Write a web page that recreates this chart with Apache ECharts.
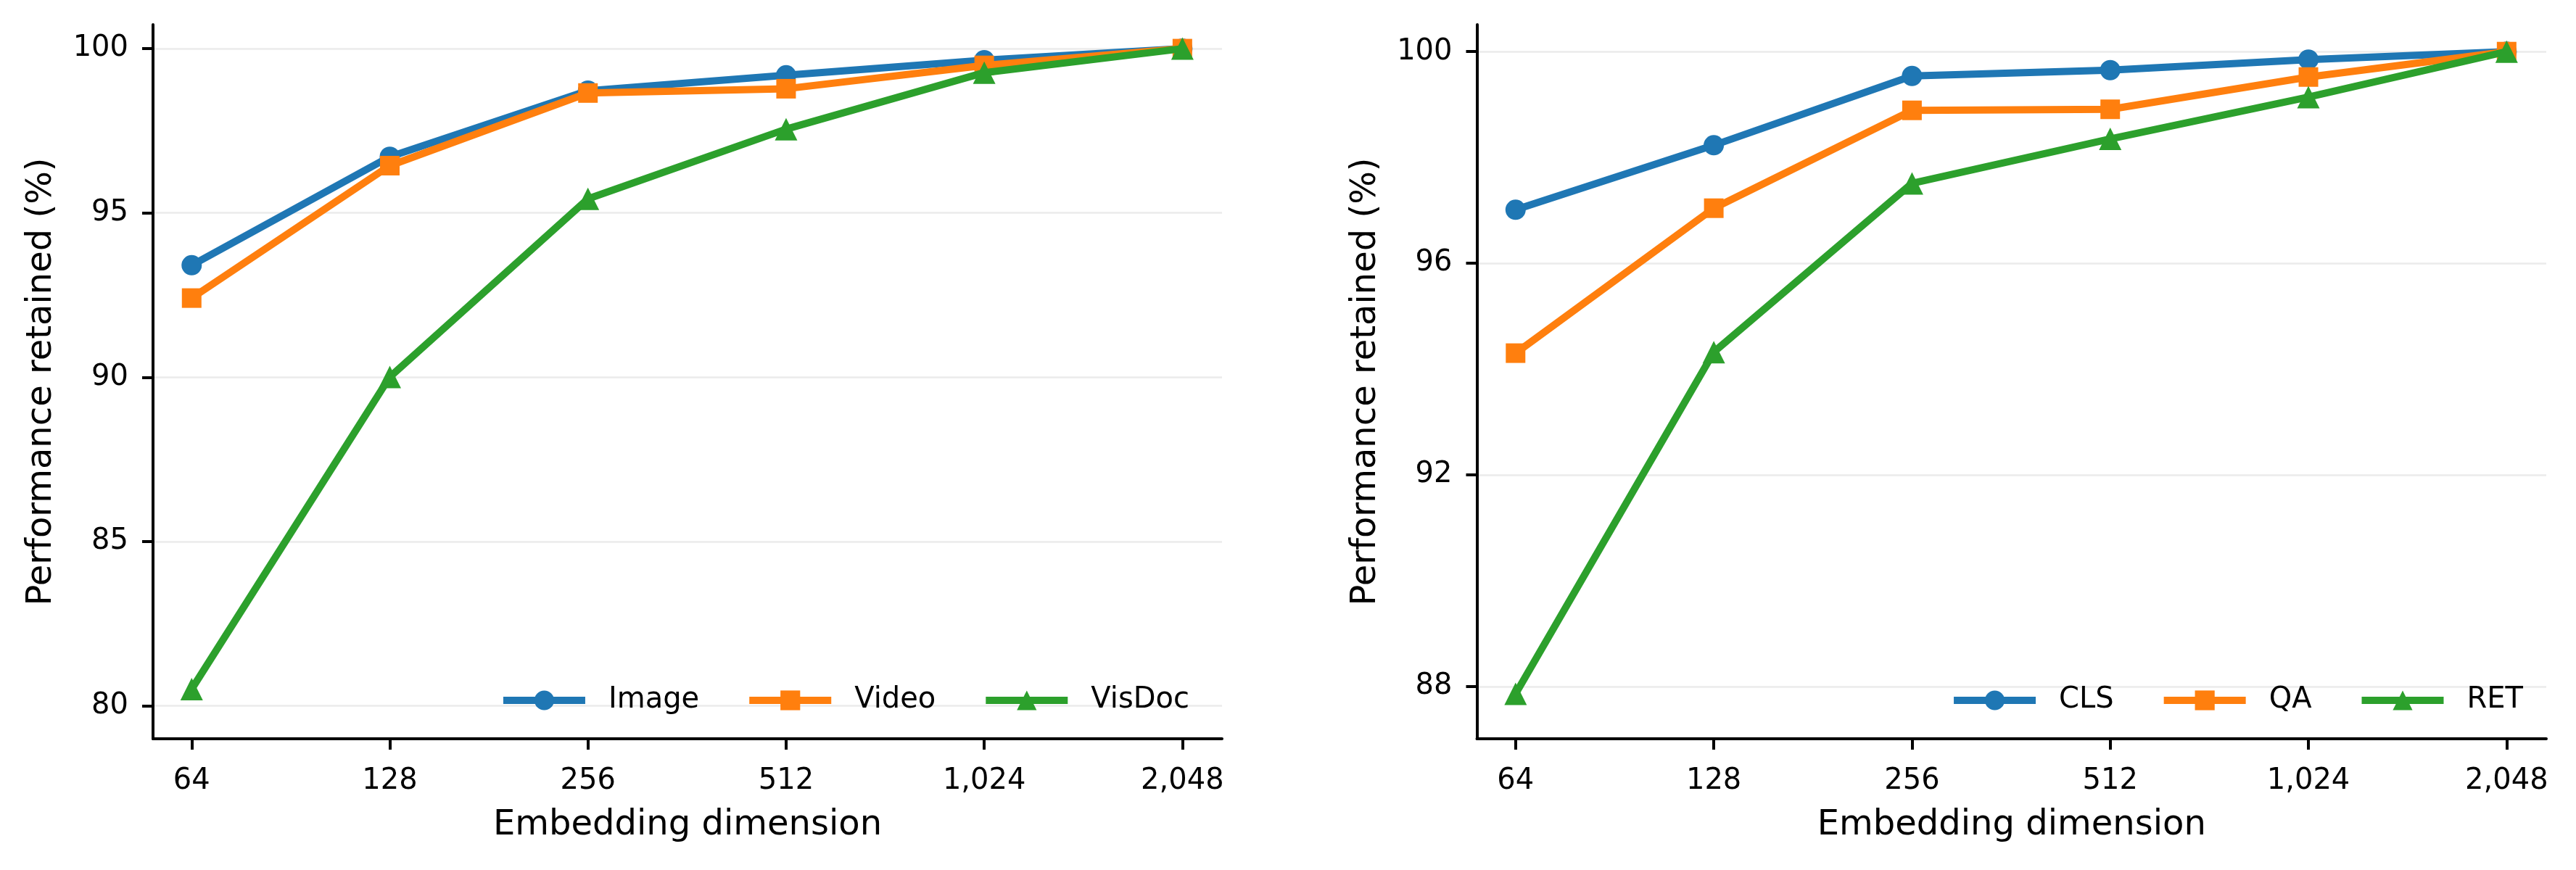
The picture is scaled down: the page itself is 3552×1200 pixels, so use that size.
<!DOCTYPE html>
<html>
<head>
<meta charset="utf-8">
<script src="https://cdn.jsdelivr.net/npm/echarts@6/dist/echarts.min.js"></script>
<style>
html,body{margin:0;padding:0;background:#fff;}
#chart{width:3552px;height:1200px;}
</style>
</head>
<body>
<div id="chart"></div>
<script>
// ---- data ----
const xLabels = ['64', '128', '256', '512', '1,024', '2,048'];

const leftNames = ['Image', 'Video', 'VisDoc'];
const imageVals  = [93.41, 96.71, 98.72, 99.19, 99.65, 100.0];
const videoVals  = [92.41, 96.44, 98.65, 98.78, 99.49, 100.0];
const visdocVals = [80.51, 90.01, 95.43, 97.55, 99.27, 100.0];
const leftYTicks = [80, 85, 90, 95, 100];

const rightNames = ['CLS', 'QA', 'RET'];
const clsVals = [97.01, 98.23, 99.54, 99.65, 99.85, 100.0];
const qaVals  = [94.30, 97.04, 98.89, 98.91, 99.52, 100.0];
const retVals = [87.86, 94.32, 97.51, 98.35, 99.14, 100.0];
const rightYTicks = [88, 92, 96, 100];

const yTitle = 'Performance retained (%)';
const xTitle = 'Embedding dimension';

// ---- styling ----
const colors = ['#1f77b4', '#ff7f0e', '#2ca02c'];
const symbols = ['circle', 'rect', 'triangle'];
const symbolSizes = [28, 27, 31];
const FONT = 'DejaVu Sans';
const xIdx = xLabels.map((_, i) => i);

function toPts(vals) { return vals.map((v, i) => [xIdx[i], v]); }

function xAxis(gi) {
  return {
    type: 'value', gridIndex: gi, min: -0.195, max: 5.2,
    name: xTitle, nameLocation: 'middle', nameGap: 96,
    nameTextStyle: {fontFamily: FONT, fontSize: 48, color: '#000'},
    axisLine: {show: true, onZero: false, lineStyle: {color: '#000', width: 4}},
    axisTick: {show: true, inside: false, length: 15, lineStyle: {color: '#000', width: 4}, customValues: xIdx},
    axisLabel: {show: true, margin: 39, fontFamily: FONT, fontSize: 40, color: '#000',
      customValues: xIdx, formatter: v => xLabels[Math.round(v)]},
    splitLine: {show: false}
  };
}
function yAxis(gi, min, max, ticks) {
  return {
    type: 'value', gridIndex: gi, min: min, max: max,
    name: yTitle, nameLocation: 'middle', nameGap: 129,
    nameTextStyle: {fontFamily: FONT, fontSize: 48, color: '#000'},
    axisLine: {show: true, onZero: false, lineStyle: {color: '#000', width: 4}},
    axisTick: {show: true, inside: false, length: 15, lineStyle: {color: '#000', width: 4}, customValues: ticks},
    axisLabel: {show: true, margin: 34, fontFamily: FONT, fontSize: 40, color: '#000',
      customValues: ticks, formatter: v => String(v)},
    splitLine: {show: true, lineStyle: {color: '#ebebeb', width: 2.5}}
  };
}
function series(name, vals, k, gi) {
  return {
    type: 'line', name: name, xAxisIndex: gi, yAxisIndex: gi,
    data: toPts(vals), symbol: symbols[k], symbolSize: symbolSizes[k], showSymbol: true,
    lineStyle: {color: colors[k], width: 10},
    itemStyle: {color: colors[k], borderWidth: 0},
    emphasis: {disabled: true}, z: 2 + k
  };
}
function legend(names, right) {
  return {
    data: names, orient: 'horizontal', right: right, top: 946, padding: 0,
    itemWidth: 113, itemHeight: 34, itemGap: 64,
    lineStyle: {width: 10},
    textStyle: {fontFamily: FONT, fontSize: 40, color: '#000', padding: [0, 0, 0, 27]},
    selectedMode: false
  };
}

const chart = echarts.init(document.getElementById('chart'), null, {renderer: 'canvas'});
chart.setOption({
  animation: false,
  backgroundColor: '#fff',
  color: colors,
  grid: [
    {left: 211, top: 34, width: 1474, height: 985, outerBoundsMode: 'none', containLabel: false},
    {left: 2036.5, top: 34, width: 1474.5, height: 985, outerBoundsMode: 'none', containLabel: false}
  ],
  xAxis: [xAxis(0), xAxis(1)],
  yAxis: [yAxis(0, 79, 100.73, leftYTicks), yAxis(1, 87.01, 100.51, rightYTicks)],
  legend: [legend(leftNames, 1912), legend(rightNames, 73)],
  series: [
    series(leftNames[0], imageVals, 0, 0),
    series(leftNames[1], videoVals, 1, 0),
    series(leftNames[2], visdocVals, 2, 0),
    series(rightNames[0], clsVals, 0, 1),
    series(rightNames[1], qaVals, 1, 1),
    series(rightNames[2], retVals, 2, 1)
  ]
});
</script>
</body>
</html>
